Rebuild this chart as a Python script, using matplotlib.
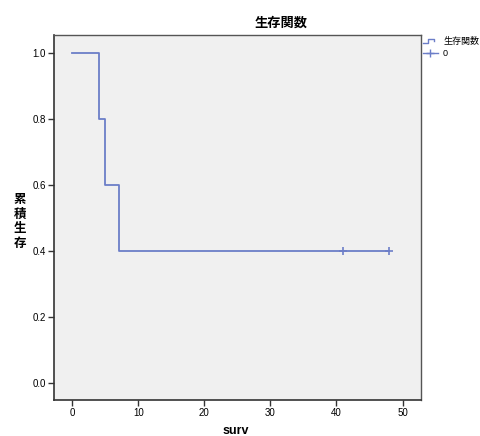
import matplotlib
matplotlib.use("Agg")
import matplotlib.pyplot as plt
from matplotlib.lines import Line2D

plt.rcParams['font.family'] = ['Liberation Sans', 'Noto Sans CJK JP', 'DejaVu Sans']

# survival step data
times = [0, 4, 5, 7, 48]
surv = [1.0, 0.8, 0.6, 0.4, 0.4]
cens_times = [41, 48]
cens_surv = [0.4, 0.4]

xticks = [0, 10, 20, 30, 40, 50]
yticks = [0.0, 0.2, 0.4, 0.6, 0.8, 1.0]

line_color = '#6c7ec8'

fig = plt.figure(figsize=(4.8, 4.36), dpi=100)
ax = fig.add_axes([54 / 480, 36 / 436, 367 / 480, 365 / 436])
ax.set_facecolor('#f0f0f0')

ax.step(times, surv, where='post', color=line_color, lw=1.3)
ax.plot(cens_times, cens_surv, ls='none', marker='+', ms=6, mew=1.2, color=line_color)

ax.set_xlim(-2.77, 52.8)
ax.set_ylim(-0.052, 1.055)
ax.set_xticks(xticks)
ax.set_xticklabels([str(t) for t in xticks])
ax.set_yticks(yticks)
ax.set_yticklabels(['%.1f' % t for t in yticks])
ax.tick_params(labelsize=7, length=4, width=1, color='#333333', pad=2)

for side in ['left', 'bottom']:
    ax.spines[side].set_color('#333333')
    ax.spines[side].set_linewidth(1.2)
for side in ['top', 'right']:
    ax.spines[side].set_color('#555555')
    ax.spines[side].set_linewidth(1.0)

fig.text(281 / 480, 1 - 23 / 436, '生存関数', ha='center', va='center',
         fontsize=9.5, fontweight='bold')
fig.text(236 / 480, 1 - 431 / 436, 'surv', ha='center', va='center',
         fontsize=9, fontweight='bold')
fig.text(20 / 480, 1 - 222 / 436, '累\n積\n生\n存', ha='center', va='center',
         fontsize=9, fontweight='bold', linespacing=1.3)

# legend outside on the right
lx = [423 / 480, 428 / 480, 428 / 480, 434 / 480, 434 / 480]
ly = [1 - 43 / 436, 1 - 43 / 436, 1 - 39 / 436, 1 - 39 / 436, 1 - 41 / 436]
fig.add_artist(Line2D(lx, ly, color=line_color, lw=1.0))
fig.text(443 / 480, 1 - 41 / 436, '生存関数', ha='left', va='center', fontsize=6.5)
fig.add_artist(Line2D([423 / 480, 438 / 480], [1 - 53 / 436, 1 - 53 / 436],
                      color=line_color, lw=1.0))
fig.add_artist(Line2D([430 / 480], [1 - 53 / 436], color=line_color,
                      marker='+', ms=6, mew=1.0))
fig.text(443 / 480, 1 - 53 / 436, '0', ha='left', va='center', fontsize=6.5)

fig.savefig('out.png', dpi=100)
